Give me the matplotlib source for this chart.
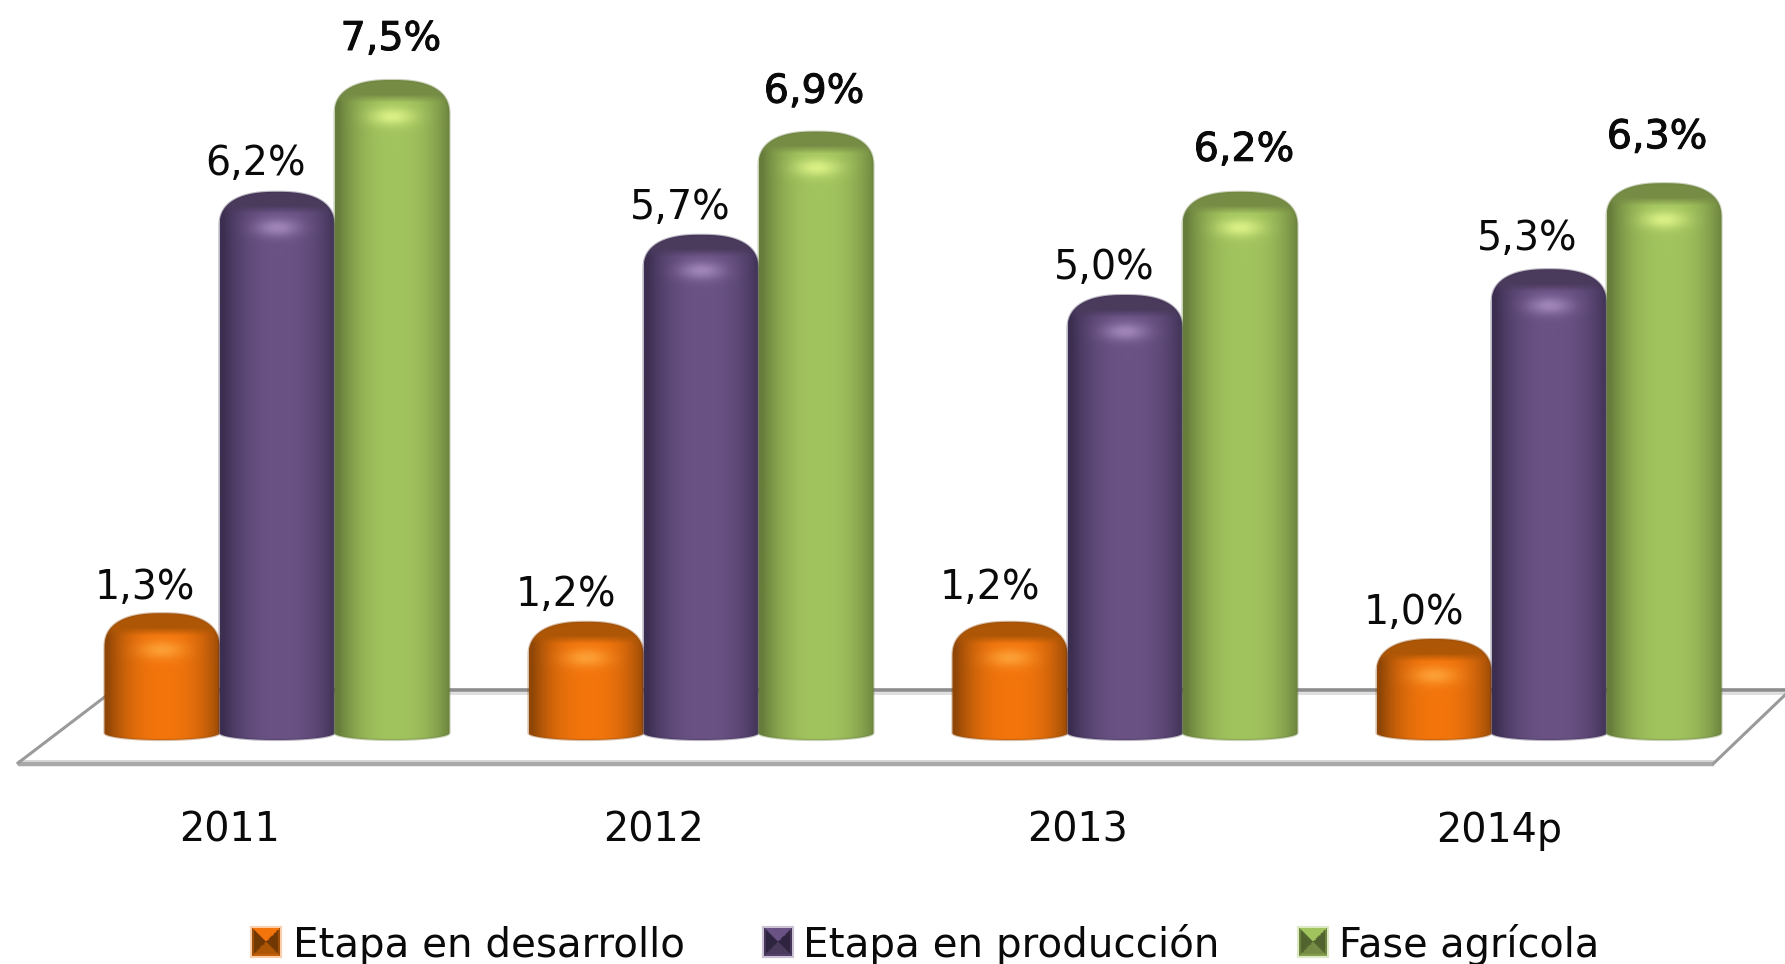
import numpy as np
import matplotlib
matplotlib.use("Agg")
import matplotlib.pyplot as plt
import matplotlib.patheffects as pe
from matplotlib.patches import PathPatch, Rectangle
from matplotlib.path import Path

# ---- data ----
categories = ["2011", "2012", "2013", "2014p"]
series_names = ["Etapa en desarrollo", "Etapa en producción", "Fase agrícola"]
desarrollo = [1.3, 1.2, 1.2, 1.0]
produccion = [6.2, 5.7, 5.0, 5.3]
agricola = [7.5, 6.9, 6.2, 6.3]
series_values = [desarrollo, produccion, agricola]

# ---- styles and layout (pixel geometry of the picture) ----
W, H = 1785, 964
PX_PER_UNIT = 86.0
Y_ZERO = 725.0
GROUP_PX = 424.0
X_ZERO = 277.0
BAR_PX = 115.0
colors = [
    dict(dark="#8f4606", light="#f3750c", back="#ad5606", hi="#fc9f35"),
    dict(dark="#3b2e50", light="#6a5285", back="#4a3a5c", hi="#9f85b8"),
    dict(dark="#667c3a", light="#a2c45e", back="#768c45", hi="#d9f085"),
]
bar_offset = [-1, 0, 1]
label_dx = [[-17, -20, -20, -20], [-21, -21, -21, -22], [-1, -2, 4, -7]]
label_gap = [[14, 16, 23, 15], [17, 16, 16, 19], [30, 29, 31, 35]]
cat_dx = [-47, -47, -47, -50]
TEXT = "#0a0a0a"
FS = 28.5
legend_fs = [29.1, 29.2, 28.6]


def rgb(h):
    return np.array(matplotlib.colors.to_rgb(h))


def dx(px):
    return px / GROUP_PX


def dy(px):
    return px / PX_PER_UNIT


def X(px):
    return (px - X_ZERO) / GROUP_PX


def Y(px):
    return (Y_ZERO - px) / PX_PER_UNIT


fig = plt.figure(figsize=(W / 100, H / 100), dpi=100)
ax = fig.add_axes([0, 0, 1, 1])
ax.set_xlim(X(0), X(W))
ax.set_ylim(Y(H), Y(0))
ax.autoscale(False)
ax.axis("off")

# floor plane
ax.plot([X(18), X(1714)], [Y(764), Y(764)], color="#a8a8a8", lw=3.2, zorder=1, solid_capstyle="butt")
ax.plot([X(18), X(1714)], [Y(761), Y(761)], color="#d0d0d0", lw=1.2, zorder=1, solid_capstyle="butt")
ax.plot([X(105), X(1785)], [Y(690), Y(690)], color="#8c8c8c", lw=2.6, zorder=1, solid_capstyle="butt")
ax.plot([X(105), X(1785)], [Y(693), Y(693)], color="#dddddd", lw=2.0, zorder=1, solid_capstyle="butt")
ax.plot([X(18), X(106)], [Y(763), Y(696)], color="#9a9a9a", lw=2.2, zorder=1)
ax.plot([X(1714), X(1785)], [Y(763), Y(695)], color="#9a9a9a", lw=2.2, zorder=1)


def cylinder(center, value, style, z):
    hw = dx(BAR_PX / 2)
    cap = dy(35)
    side_bottom = Y(733)
    depth = dy(7)
    th = np.linspace(0, np.pi, 80)
    xs_top = center + hw * np.sign(np.cos(th)) * np.abs(np.cos(th)) ** 0.8
    ys_top = value - cap + cap * np.sin(th) ** 0.8
    th2 = np.linspace(np.pi, 2 * np.pi, 40)
    xs_bot = center + hw * np.cos(th2)
    ys_bot = side_bottom + depth * np.sin(th2)
    verts = np.column_stack([np.r_[xs_top, xs_bot], np.r_[ys_top, ys_bot]])
    path = Path(np.vstack([verts, verts[0]]), closed=True)

    top_px = Y_ZERO - value * PX_PER_UNIT
    n_rows = int(742 - top_px)
    n_cols = int(BAR_PX)
    t = np.linspace(-1, 1, n_cols)
    r = np.arange(n_rows)[:, None]
    f = np.clip(1.0 - np.abs((t - 0.05) / 1.0) ** 2.4, 0, 1)[None, :, None]
    img = rgb(style["dark"]) * (1 - f) + rgb(style["light"]) * f
    img = np.broadcast_to(img, (n_rows, n_cols, 3)).copy()
    w_back = np.clip((22 - r) / 8.0, 0, 1)[:, :, None]
    img = img * (1 - w_back) + rgb(style["back"]) * w_back
    g = np.exp(-((t[None, :] / 0.38) ** 2) - ((r - 36) / 9.0) ** 2)[:, :, None]
    img = img * (1 - g) + rgb(style["hi"]) * g
    im = ax.imshow(
        img,
        extent=(center - hw, center + hw, Y(742), value),
        origin="upper",
        aspect="auto",
        interpolation="bilinear",
        zorder=z,
    )
    halo = PathPatch(path, facecolor="none", edgecolor=style["dark"], alpha=0.35, lw=1.6, zorder=z)
    ax.add_patch(halo)
    patch = PathPatch(path, transform=ax.transData, facecolor="none", edgecolor="none")
    ax.add_patch(patch)
    im.set_clip_path(patch)


z = 2.0
for g_i in range(len(categories)):
    for s_i, values in enumerate(series_values):
        center = g_i + bar_offset[s_i] * dx(BAR_PX)
        cylinder(center, values[g_i], colors[s_i], z)
        z += 0.01
        txt = f"{values[g_i]:.1f}%".replace(".", ",")
        t = ax.annotate(
            txt,
            xy=(center, values[g_i]),
            xytext=(label_dx[s_i][g_i] * 0.72, label_gap[s_i][g_i] * 0.72),
            textcoords="offset points",
            ha="center",
            va="baseline",
            fontsize=FS,
            color=TEXT,
            zorder=10,
        )
        if s_i == 2:
            t.set_path_effects([pe.withStroke(linewidth=0.7, foreground=TEXT)])

# category labels
for g_i, name in enumerate(categories):
    ax.text(g_i + dx(cat_dx[g_i]), Y(842), name, ha="center", va="baseline", fontsize=FS, color=TEXT, zorder=10)


# legend
def swatch(x0, y0, size, style):
    n = 30
    u, v = np.meshgrid(np.linspace(-1, 1, n), np.linspace(-1, 1, n))
    img = np.zeros((n, n, 3))
    d, l, b = (rgb(style[k]) for k in ("dark", "light", "back"))
    top = (v < 0) & (np.abs(u) < -v)
    bottom = (v > 0) & (np.abs(u) <= v)
    sides = ~(top | bottom)
    img[top] = l
    img[bottom] = b
    img[sides] = d * 0.8
    ax.imshow(
        img,
        extent=(X(x0), X(x0 + size), Y(y0 + size), Y(y0)),
        origin="upper",
        aspect="auto",
        interpolation="bilinear",
        zorder=5,
    )
    ax.add_patch(
        Rectangle((X(x0), Y(y0 + size)), dx(size), dy(size), facecolor="none",
                  edgecolor=style["light"], alpha=0.35, lw=3, zorder=5)
    )


swatch_x = [252, 764, 1299]
text_x = [293, 803, 1339]
for name, sx, tx, style, fs in zip(series_names, swatch_x, text_x, colors, legend_fs):
    swatch(sx, 928, 28, style)
    ax.text(X(tx), Y(957), name, ha="left", va="baseline", fontsize=fs, color=TEXT, zorder=10)

fig.savefig("out.png", dpi=100)
